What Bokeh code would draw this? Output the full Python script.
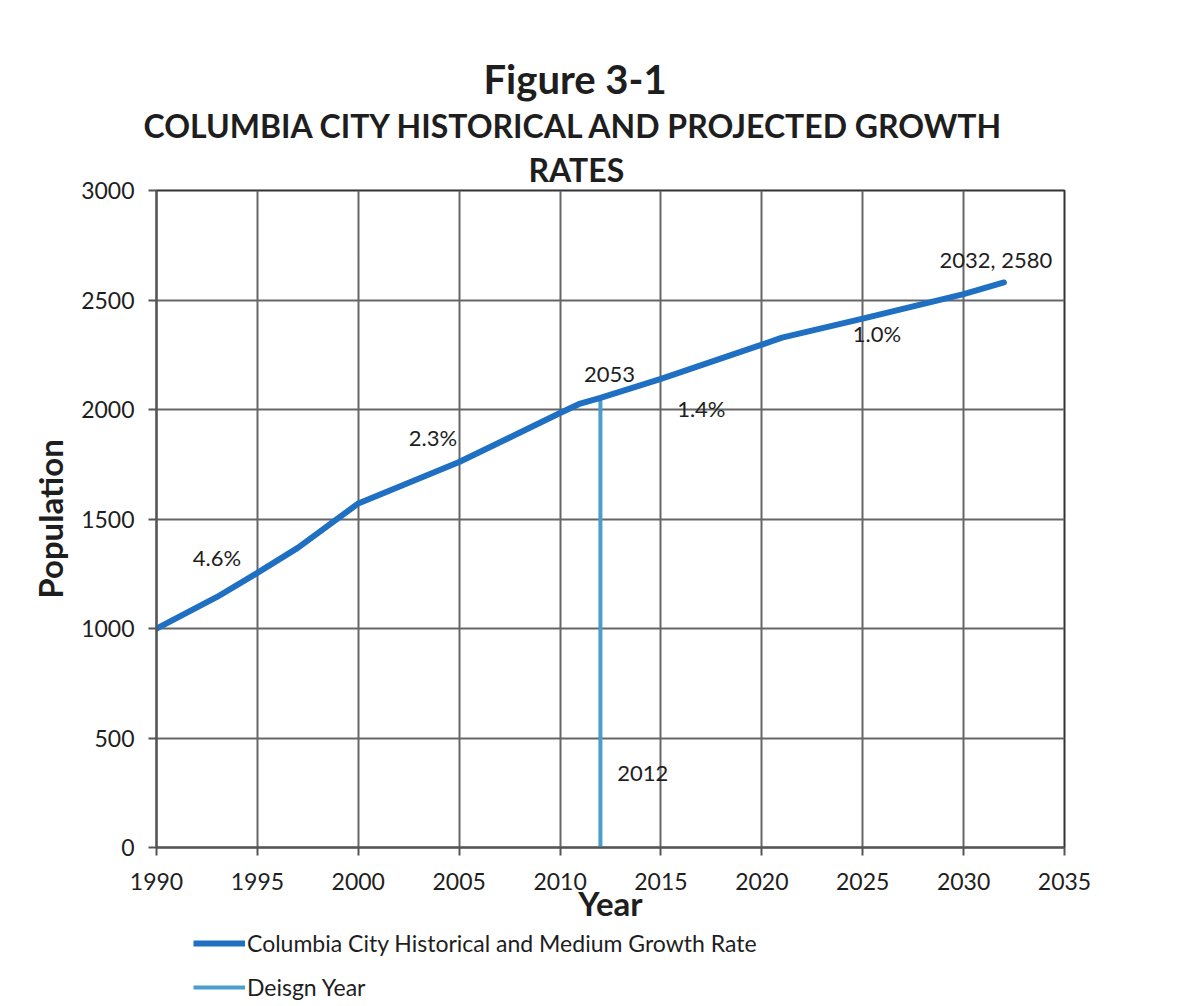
from bokeh.plotting import figure
from bokeh.layouts import column
from bokeh.models import Range1d, FixedTicker, Label, Legend, LegendItem, Title
from bokeh.embed import file_html
from bokeh.resources import INLINE

# ---- data ----
years = [1990, 1993, 1995, 1997, 2000, 2005, 2010, 2011, 2012, 2015, 2020, 2021, 2025, 2030, 2032]
population = [1000, 1144, 1254, 1368, 1571, 1760, 1984, 2027, 2053, 2140, 2296, 2328, 2415, 2527, 2580]
design_year = [2012, 2012]
design_pop = [0, 2053]
x_ticks = [1990, 1995, 2000, 2005, 2010, 2015, 2020, 2025, 2030, 2035]
y_ticks = [0, 500, 1000, 1500, 2000, 2500, 3000]
series_names = ["Columbia City Historical and Medium Growth Rate", "Deisgn Year"]
rate_labels = ["4.6%", "2.3%", "1.4%", "1.0%"]
rate_label_x = [1993.0, 2003.7, 2017.0, 2025.7]
rate_label_y = [1324, 1872, 2005, 2347]
title_lines = ["Figure 3-1", "COLUMBIA CITY HISTORICAL AND PROJECTED GROWTH", "RATES"]

FONT = "Lato"
TXT = "#1e1e1e"
MAIN_C = "#1f6fc2"
DESIGN_C = "#4a9ecb"
MAIN_W = 6
DESIGN_W = 4
BORDER_L, BORDER_R = 156, 116
MAIN_H, LEG_H = 930, 76

p = figure(width=1180, height=MAIN_H, output_backend="svg", toolbar_location=None, title=None,
           x_range=Range1d(1990, 2035), y_range=Range1d(0, 3000),
           min_border_left=BORDER_L, min_border_right=BORDER_R, min_border_top=190,
           min_border_bottom=MAIN_H - 847)
p.background_fill_color = "white"
p.border_fill_color = "white"
p.outline_line_color = "#333333"
p.outline_line_width = 2

for ax in (p.xaxis[0], p.yaxis[0]):
    ax.axis_line_color = "#555555"
    ax.axis_line_width = 2
    ax.major_tick_line_color = "#555555"
    ax.major_tick_line_width = 2
    ax.major_tick_in = 0
    ax.major_tick_out = 8
    ax.minor_tick_line_color = None
    ax.major_label_text_font = FONT
    ax.major_label_text_font_size = "23px"
    ax.major_label_text_color = TXT
    ax.axis_label_text_font = FONT
    ax.axis_label_text_font_style = "bold"
    ax.axis_label_text_font_size = "33px"
    ax.axis_label_text_color = TXT

p.xaxis.ticker = FixedTicker(ticks=x_ticks)
p.yaxis.ticker = FixedTicker(ticks=y_ticks)
p.xaxis.axis_label = "Year"
p.yaxis.axis_label = "Population"
p.xaxis.major_label_standoff = 17
p.yaxis.major_label_standoff = 14
p.xaxis.axis_label_standoff = -10
p.yaxis.axis_label_standoff = 8

p.xgrid.grid_line_color = "#666666"
p.ygrid.grid_line_color = "#666666"
p.xgrid.grid_line_width = 2
p.ygrid.grid_line_width = 2

p.line(design_year, design_pop, line_color=DESIGN_C, line_width=DESIGN_W)
p.line(years, population, line_color=MAIN_C, line_width=MAIN_W, line_join="round", line_cap="round")

# data labels
LBL = dict(text_align="center", text_baseline="middle", text_font=FONT,
           text_font_size="22px", text_color=TXT)
for t, x, y in zip(rate_labels, rate_label_x, rate_label_y):
    p.add_layout(Label(x=x, y=y, text=t, **LBL))
p.add_layout(Label(x=design_year[1] + 0.45, y=design_pop[1] + 107, text=str(design_pop[1]), **LBL))
p.add_layout(Label(x=years[-1] - 0.4, y=population[-1] + 105,
                   text=f"{years[-1]}, {population[-1]}", **LBL))
p.add_layout(Label(x=design_year[0] + 2.1, y=338, text=str(design_year[0]), **LBL))

# titles (first added sits nearest the plot)
title_offsets = [372, -13, 327]
title_sizes = ["32px", "32px", "40px"]
title_standoffs = [4, 2, 0]
for t, off, s, so in zip(reversed(title_lines), title_offsets, title_sizes, title_standoffs):
    p.add_layout(Title(text=t, align="left", offset=off, standoff=so, text_font=FONT,
                       text_font_style="bold", text_font_size=s, text_color=TXT), "above")

# legend strip below the chart (its renderers draw the same series, outside its visible range)
leg = figure(width=1180, height=LEG_H, output_backend="svg", toolbar_location=None, title=None,
             x_range=Range1d(0, 1), y_range=Range1d(0, 1),
             min_border_left=BORDER_L, min_border_right=BORDER_R, min_border_top=0, min_border_bottom=0)
leg.axis.visible = False
leg.grid.visible = False
leg.outline_line_color = None
leg.background_fill_color = "white"
leg.border_fill_color = "white"
lr_main = leg.line(years, population, line_color=MAIN_C, line_width=MAIN_W)
lr_design = leg.line(design_year, design_pop, line_color=DESIGN_C, line_width=DESIGN_W)
legend = Legend(items=[LegendItem(label=series_names[0], renderers=[lr_main]),
                       LegendItem(label=series_names[1], renderers=[lr_design])],
                location=(37, 5), orientation="vertical",
                border_line_color=None, background_fill_alpha=0,
                label_text_font=FONT, label_text_font_size="23px", label_text_color=TXT,
                glyph_width=52, glyph_height=20, label_height=20, spacing=16,
                padding=0, margin=0, label_standoff=2)
leg.add_layout(legend, "center")

layout = column(p, leg, spacing=0)
open("out.html", "w").write(file_html(layout, INLINE))
